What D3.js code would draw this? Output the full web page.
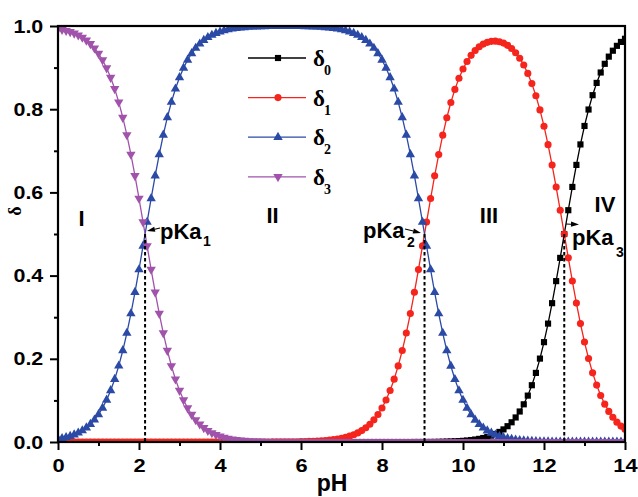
<!DOCTYPE html>
<html>
<head>
<meta charset="utf-8">
<script src="https://cdn.jsdelivr.net/npm/d3@7/dist/d3.min.js"></script>
<style>
  html, body { margin: 0; padding: 0; background: #fff; }
  svg { display: block; }
</style>
</head>
<body>
<svg id="chart" width="638" height="497"></svg>
<script>
// ---------- DATA ----------
const pH = [
  0.0,0.1,0.2,0.3,0.4,0.5,0.6,0.7,0.8,0.9,
  1.0,1.1,1.2,1.3,1.4,1.5,1.6,1.7,1.8,1.9,
  2.0,2.1,2.2,2.3,2.4,2.5,2.6,2.7,2.8,2.9,
  3.0,3.1,3.2,3.3,3.4,3.5,3.6,3.7,3.8,3.9,
  4.0,4.1,4.2,4.3,4.4,4.5,4.6,4.7,4.8,4.9,
  5.0,5.1,5.2,5.3,5.4,5.5,5.6,5.7,5.8,5.9,
  6.0,6.1,6.2,6.3,6.4,6.5,6.6,6.7,6.8,6.9,
  7.0,7.1,7.2,7.3,7.4,7.5,7.6,7.7,7.8,7.9,
  8.0,8.1,8.2,8.3,8.4,8.5,8.6,8.7,8.8,8.9,
  9.0,9.1,9.2,9.3,9.4,9.5,9.6,9.7,9.8,9.9,
  10.0,10.1,10.2,10.3,10.4,10.5,10.6,10.7,10.8,10.9,
  11.0,11.1,11.2,11.3,11.4,11.5,11.6,11.7,11.8,11.9,
  12.0,12.1,12.2,12.3,12.4,12.5,12.6,12.7,12.8,12.9,
  13.0,13.1,13.2,13.3,13.4,13.5,13.6,13.7,13.8,13.9,
  14.0
];

const delta0 = [
  0,0,0,0,0,0,0,0,0,0,
  0,0,0,0,0,0,0,0,0,0,
  0,0,0,0,0,0,0,0,0,0,
  0,0,0,0,0,0,0,0,0,0,
  0,0,0,0,0,0,0,0,0,0,
  0,0,0,0,0,0,0,0,0,0,
  0,0,0,0,0,0,0,0,0,0,
  0,0,0,0,0,0,0,0,0,0,
  0,0,0,0,0,0,0,0,0.0001,0.0001,
  0.0001,0.0001,0.0002,0.0003,0.0005,0.0007,0.0010,0.0013,0.0017,0.0022,
  0.0028,0.0036,0.0047,0.0059,0.0075,0.0096,0.0121,0.0153,0.0192,0.0242,
  0.0303,0.0380,0.0474,0.0590,0.0733,0.0906,0.1115,0.1365,0.1661,0.2005,
  0.2400,0.2846,0.3337,0.3867,0.4426,0.4999,0.5572,0.6131,0.6661,0.7153,
  0.7597,0.7992,0.8337,0.8632,0.8882,0.9091,0.9264,0.9406,0.9523,0.9617,
  0.9693
];

const delta1 = [
  0,0,0,0,0,0,0,0,0,0,
  0,0,0,0,0,0,0,0,0,0,
  0,0,0,0,0,0,0,0,0,0,
  0,0,0,0,0,0,0,0,0,0,
  0,0,0,0,0,0,0,0,0,0,
  0.0001,0.0001,0.0001,0.0002,0.0002,0.0003,0.0004,0.0004,0.0006,0.0007,
  0.0009,0.0011,0.0014,0.0018,0.0022,0.0028,0.0035,0.0044,0.0056,0.0070,
  0.0088,0.0111,0.0140,0.0175,0.0219,0.0274,0.0343,0.0428,0.0532,0.0661,
  0.0818,0.1009,0.1238,0.1510,0.1829,0.2199,0.2619,0.3088,0.3599,0.4144,
  0.4713,0.5287,0.5853,0.6400,0.6909,0.7376,0.7794,0.8160,0.8476,0.8743,
  0.8966,0.9148,0.9295,0.9411,0.9500,0.9565,0.9608,0.9632,0.9636,0.9622,
  0.9589,0.9535,0.9459,0.9357,0.9226,0.9062,0.8860,0.8615,0.8324,0.7983,
  0.7591,0.7148,0.6658,0.6129,0.5572,0.4999,0.4427,0.3869,0.3339,0.2847,
  0.2403,0.2008,0.1663,0.1368,0.1118,0.0909,0.0736,0.0594,0.0477,0.0383,
  0.0307
];

const delta2 = [
  0.0070,0.0088,0.0111,0.0140,0.0175,0.0219,0.0274,0.0343,0.0428,0.0532,
  0.0661,0.0818,0.1009,0.1238,0.1510,0.1829,0.2199,0.2619,0.3088,0.3599,
  0.4145,0.4713,0.5287,0.5855,0.6401,0.6912,0.7381,0.7801,0.8171,0.8490,
  0.8762,0.8991,0.9182,0.9339,0.9468,0.9572,0.9657,0.9726,0.9781,0.9825,
  0.9860,0.9889,0.9912,0.9930,0.9944,0.9956,0.9965,0.9972,0.9978,0.9982,
  0.9985,0.9988,0.9990,0.9991,0.9992,0.9993,0.9992,0.9993,0.9992,0.9991,
  0.9990,0.9989,0.9986,0.9982,0.9978,0.9972,0.9965,0.9956,0.9944,0.9930,
  0.9912,0.9889,0.9860,0.9825,0.9781,0.9726,0.9657,0.9572,0.9468,0.9339,
  0.9182,0.8991,0.8762,0.8490,0.8171,0.7801,0.7381,0.6912,0.6401,0.5855,
  0.5286,0.4712,0.4143,0.3596,0.3086,0.2617,0.2197,0.1827,0.1507,0.1235,
  0.1006,0.0815,0.0658,0.0529,0.0424,0.0339,0.0271,0.0216,0.0171,0.0136,
  0.0108,0.0085,0.0067,0.0053,0.0041,0.0032,0.0025,0.0019,0.0015,0.0011,
  0.0009,0.0006,0.0005,0.0003,0.0002,0.0002,0.0001,0.0001,0,0,
  0,0,0,0,0,0,0,0,0,0,
  0
];

const delta3 = [
  0.9930,0.9912,0.9889,0.9860,0.9825,0.9781,0.9726,0.9657,0.9572,0.9468,
  0.9339,0.9182,0.8991,0.8762,0.8490,0.8171,0.7801,0.7381,0.6912,0.6401,
  0.5855,0.5287,0.4713,0.4145,0.3599,0.3088,0.2619,0.2199,0.1829,0.1510,
  0.1238,0.1009,0.0818,0.0661,0.0532,0.0428,0.0343,0.0274,0.0219,0.0175,
  0.0140,0.0111,0.0088,0.0070,0.0056,0.0044,0.0035,0.0028,0.0022,0.0018,
  0.0014,0.0011,0.0009,0.0007,0.0006,0.0004,0.0004,0.0003,0.0002,0.0002,
  0.0001,0,0,0,0,0,0,0,0,0,
  0,0,0,0,0,0,0,0,0,0,
  0,0,0,0,0,0,0,0,0,0,
  0,0,0,0,0,0,0,0,0,0,
  0,0,0,0,0,0,0,0,0,0,
  0,0,0,0,0,0,0,0,0,0,
  0,0,0,0,0,0,0,0,0,0,
  0,0,0,0,0,0,0,0,0,0,
  0
];

const seriesNames = ["0", "1", "2", "3"];       // subscripts of δ
const seriesColors = ["#000000", "#f5241c", "#2b4aa6", "#a153ab"];
const seriesSymbols = ["square", "circle", "triangleUp", "triangleDown"];

const pKaValues = [2.15, 9.05, 12.5];
const pKaLabels = ["1", "2", "3"];
const regionLabels = ["I", "II", "III", "IV"];

const xTicks = [0, 2, 4, 6, 8, 10, 12, 14];
const xMinorTicks = [1, 3, 5, 7, 9, 11, 13];
const yTicks = [0.0, 0.2, 0.4, 0.6, 0.8, 1.0];
const yMinorTicks = [0.1, 0.3, 0.5, 0.7, 0.9];

// ---------- LAYOUT ----------
const mLeft = 58, mRight = 625, mTop = 26, mBottom = 442;
const svg = d3.select("#chart");
svg.append("rect").attr("width", 638).attr("height", 497).attr("fill", "#fff");

const x = d3.scaleLinear().domain([0, 14]).range([mLeft, mRight]);
const y = d3.scaleLinear().domain([0, 1]).range([mBottom, mTop]);

const SANS = "'Liberation Sans', Arial, sans-serif";
const SERIF = "'Liberation Serif', 'Times New Roman', serif";

svg.append("defs").append("clipPath").attr("id", "plotclip")
  .append("rect").attr("x", mLeft).attr("y", mTop)
  .attr("width", mRight - mLeft).attr("height", mBottom - mTop);

// ---------- SERIES ----------
const allSeries = [delta0, delta1, delta2, delta3];
function symbolPath(kind) {
  if (kind === "square") return d3.symbol().type(d3.symbolSquare).size(38)();
  if (kind === "circle") return d3.symbol().type(d3.symbolCircle).size(40)();
  return d3.symbol().type(d3.symbolTriangle).size(38)();
}

const plot = svg.append("g").attr("clip-path", "url(#plotclip)");
const line = d3.line().x(d => x(d[0])).y(d => y(d[1]));

allSeries.forEach((vals, si) => {
  const pts = pH.map((p, i) => [p, vals[i]]);
  const g = plot.append("g");
  g.append("path").datum(pts)
    .attr("d", line).attr("fill", "none")
    .attr("stroke", seriesColors[si]).attr("stroke-width", 1.3);
  g.selectAll("path.m").data(pts).enter().append("path")
    .attr("class", "m")
    .attr("d", symbolPath(seriesSymbols[si]))
    .attr("transform", d => `translate(${x(d[0])},${y(d[1])})` + (seriesSymbols[si] === "triangleDown" ? " rotate(180)" : ""))
    .attr("fill", seriesColors[si]);
});

// ---------- DASHED pKa LINES ----------
svg.selectAll("line.pka").data(pKaValues).enter().append("line")
  .attr("class", "pka")
  .attr("x1", d => x(d)).attr("x2", d => x(d))
  .attr("y1", y(0.5)).attr("y2", y(0))
  .attr("stroke", "#000").attr("stroke-width", 2)
  .attr("stroke-dasharray", "3.5,2.5");

// ---------- AXES ----------
const xAxis = svg.append("g").attr("transform", `translate(0,${mBottom})`)
  .call(d3.axisBottom(x).tickValues(xTicks).tickSize(8).tickPadding(9).tickSizeOuter(0).tickFormat(d3.format("d")));
const xMinor = svg.append("g").attr("transform", `translate(0,${mBottom})`)
  .call(d3.axisBottom(x).tickValues(xMinorTicks).tickSize(4).tickSizeOuter(0).tickFormat(""));
const yAxis = svg.append("g").attr("transform", `translate(${mLeft},0)`)
  .call(d3.axisLeft(y).tickValues(yTicks).tickSize(8).tickPadding(5).tickSizeOuter(0).tickFormat(d3.format(".1f")));
const yMinor = svg.append("g").attr("transform", `translate(${mLeft},0)`)
  .call(d3.axisLeft(y).tickValues(yMinorTicks).tickSize(4).tickSizeOuter(0).tickFormat(""));

[xAxis, xMinor, yAxis, yMinor].forEach(g => {
  g.select(".domain").remove();
  g.selectAll(".tick line").attr("stroke", "#000").attr("stroke-width", 2);
});
xAxis.selectAll(".tick text").attr("font-family", SANS).attr("font-weight", "bold")
  .attr("font-size", 19).attr("fill", "#000").attr("transform", "scale(1.15,1)");
yAxis.selectAll(".tick text").attr("font-family", SANS).attr("font-weight", "bold")
  .attr("font-size", 19).attr("fill", "#000").attr("transform", "scale(1.13,1)");

// frame
svg.append("rect").attr("x", mLeft).attr("y", mTop)
  .attr("width", mRight - mLeft).attr("height", mBottom - mTop)
  .attr("fill", "none").attr("stroke", "#000").attr("stroke-width", 2.2);

// axis titles
svg.append("text").attr("x", 332).attr("y", 491).attr("text-anchor", "middle")
  .attr("font-family", SANS).attr("font-weight", "bold").attr("font-size", 23).text("pH");
svg.append("text").attr("transform", "translate(21,211) rotate(-90)")
  .attr("text-anchor", "middle")
  .attr("font-family", SERIF).attr("font-weight", "bold").attr("font-size", 18).text("δ");

// ---------- LEGEND ----------
const legend = svg.append("g");
seriesNames.forEach((name, i) => {
  const ly = 58 + i * 39.6;
  legend.append("line").attr("x1", 248).attr("x2", 306).attr("y1", ly).attr("y2", ly)
    .attr("stroke", seriesColors[i]).attr("stroke-width", 1.3);
  legend.append("path").attr("d", symbolPath(seriesSymbols[i]))
    .attr("transform", `translate(278,${ly})` + (seriesSymbols[i] === "triangleDown" ? " rotate(180)" : ""))
    .attr("fill", seriesColors[i]);
  legend.append("text").attr("x", 313).attr("y", ly + 8)
    .attr("font-family", SERIF).attr("font-weight", "bold").attr("font-size", 23).text("δ");
  legend.append("text").attr("x", 324).attr("y", ly + 17)
    .attr("font-family", SERIF).attr("font-weight", "bold").attr("font-size", 14).text(name);
});

// ---------- ANNOTATIONS ----------
const regionPos = [[81.5, 226], [272.5, 223], [489, 223], [605, 212]];
regionLabels.forEach((t, i) => {
  svg.append("text").attr("x", regionPos[i][0]).attr("y", regionPos[i][1])
    .attr("text-anchor", "middle").attr("font-family", SANS).attr("font-weight", "bold")
    .attr("font-size", 22).text(t);
});

const pkaTextPos = [[160, 238.5, 203, 245.5], [363, 238, 407, 247], [572, 245, 616, 257]];
pKaLabels.forEach((s, i) => {
  const p = pkaTextPos[i];
  svg.append("text").attr("x", p[0]).attr("y", p[1]).attr("font-family", SANS)
    .attr("font-weight", "bold").attr("font-size", 22).text("pKa");
  svg.append("text").attr("x", p[2]).attr("y", p[3]).attr("font-family", SANS)
    .attr("font-weight", "bold").attr("font-size", 14).text(s);
});

function arrow(x1, y1, x2, y2) {
  const ang = Math.atan2(y2 - y1, x2 - x1);
  const hl = 8, hw = 2.6;
  const bx = x2 - hl * Math.cos(ang), by = y2 - hl * Math.sin(ang);
  svg.append("line").attr("x1", x1).attr("y1", y1).attr("x2", bx).attr("y2", by)
    .attr("stroke", "#000").attr("stroke-width", 1.1);
  const px = -Math.sin(ang) * hw, py = Math.cos(ang) * hw;
  svg.append("path")
    .attr("d", `M${x2},${y2}L${bx + px},${by + py}L${bx - px},${by - py}Z`)
    .attr("fill", "#000");
}
arrow(160, 228, 147, 231);
arrow(405, 229, 421, 233);
arrow(566, 224, 579, 224.5);
</script>
</body>
</html>
